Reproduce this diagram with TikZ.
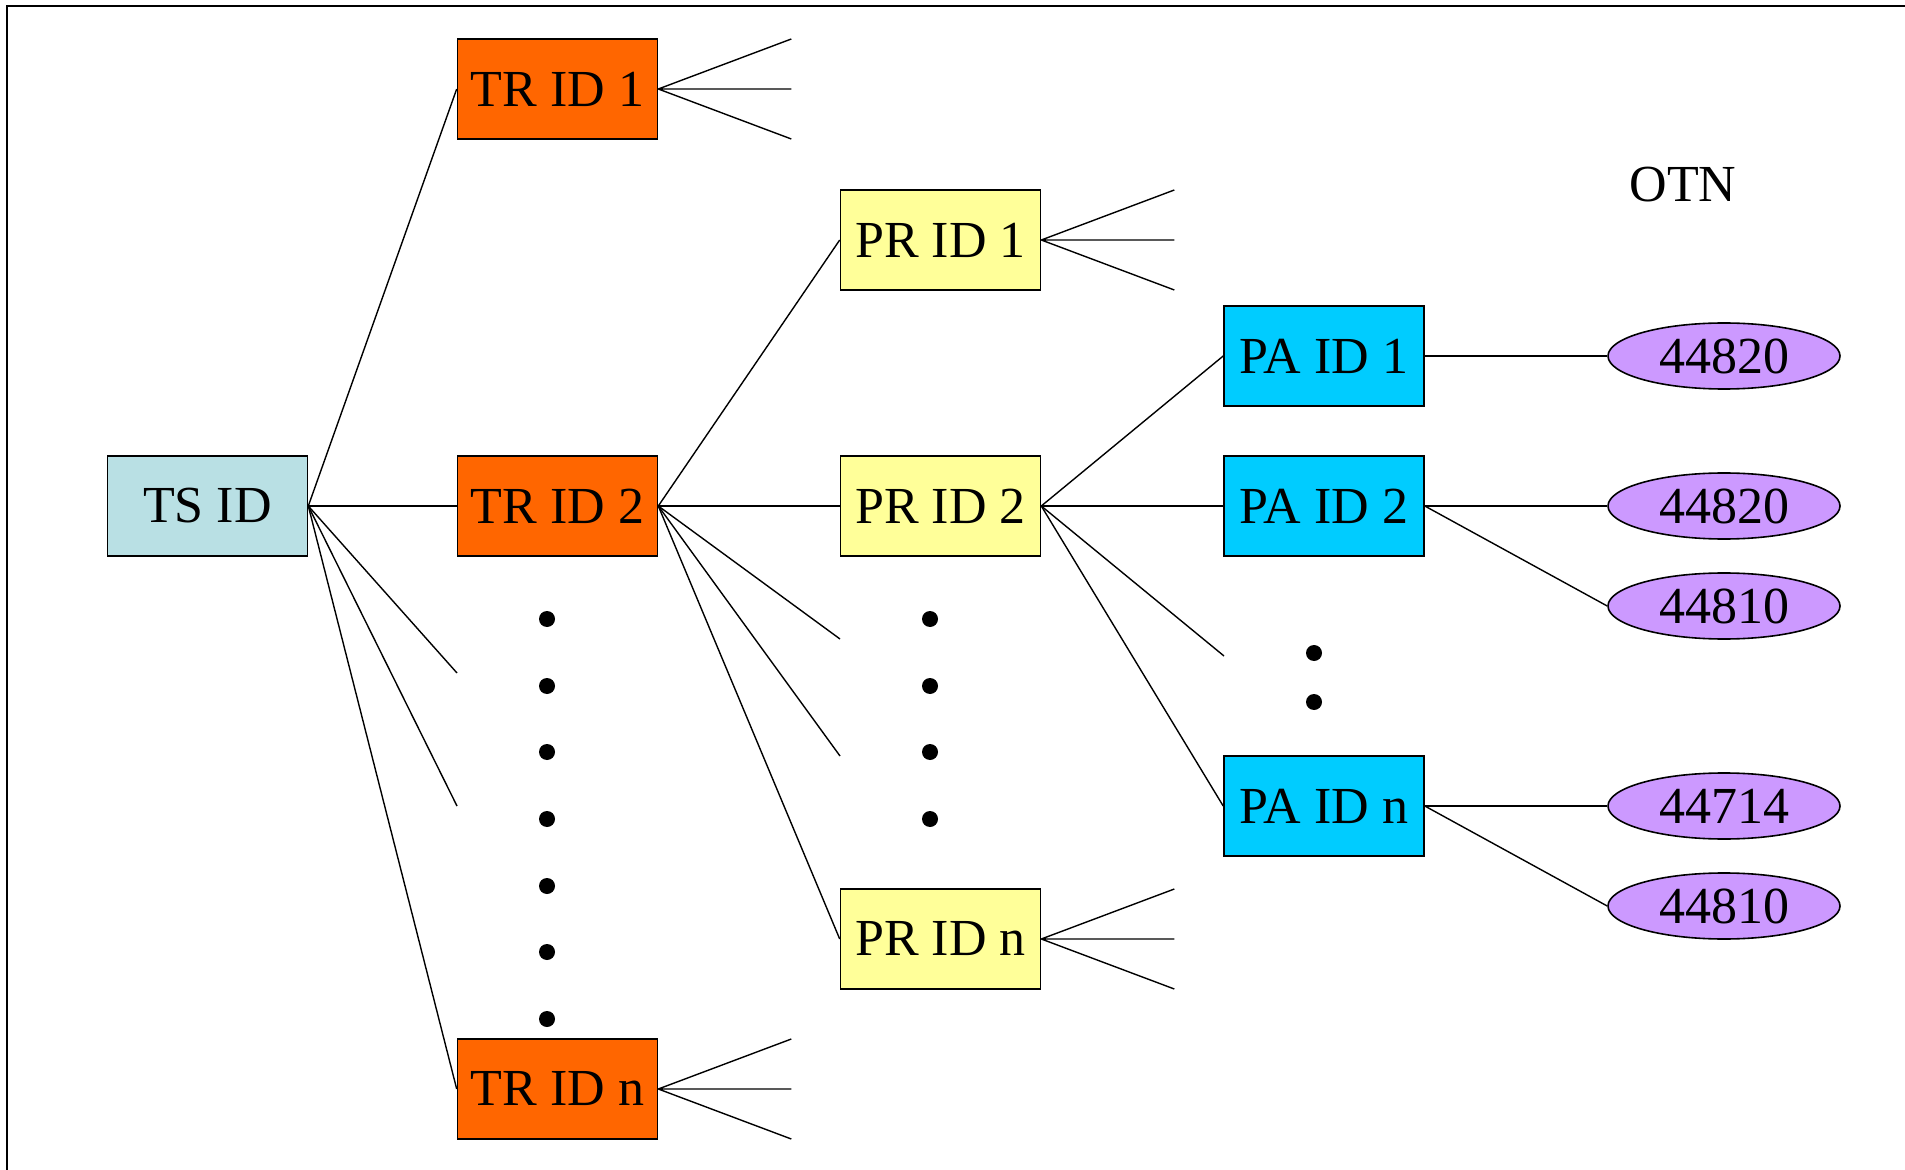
\documentclass[tikz,border=0pt]{standalone}
\usepackage{fontspec}
\setmainfont{Liberation Serif}
\usepackage{tikz}
\usetikzlibrary{shapes.geometric}

\definecolor{tscol}{RGB}{185,224,228}
\definecolor{trcol}{RGB}{255,102,0}
\definecolor{prcol}{RGB}{255,255,153}
\definecolor{pacol}{RGB}{0,204,255}
\definecolor{otncol}{RGB}{204,153,255}

\begin{document}
\begin{tikzpicture}[x=0.5pt,y=-0.5pt,
  idbox/.style={shape=rectangle,draw,line width=0.8pt,minimum width=100pt,minimum height=50pt,inner sep=0pt,font=\fontsize{26}{30}\selectfont},
  otnval/.style={shape=ellipse,draw,fill=otncol,line width=0.8pt,minimum width=116pt,minimum height=33pt,inner sep=0pt,font=\fontsize{26}{30}\selectfont},
  link/.style={line width=0.7pt},
  dot/.style={fill=black}]
  \useasboundingbox (0,0) rectangle (1905,1170);
  % frame
  \draw[line width=0.8pt] (7,1170) -- (7,6) -- (1905,6);

  % boxes
  \node[idbox,fill=tscol] (ts) at (207.5,506) {TS ID};
  \node[idbox,fill=trcol] (tr1) at (557.5,89) {TR ID 1};
  \node[idbox,fill=trcol] (tr2) at (557.5,506) {TR ID 2};
  \node[idbox,fill=trcol] (trn) at (557.5,1089) {TR ID n};
  \node[idbox,fill=prcol] (pr1) at (940.5,240) {PR ID 1};
  \node[idbox,fill=prcol] (pr2) at (940.5,506) {PR ID 2};
  \node[idbox,fill=prcol] (prn) at (940.5,939) {PR ID n};
  \node[idbox,fill=pacol] (pa1) at (1324,356) {PA ID 1};
  \node[idbox,fill=pacol] (pa2) at (1324,506) {PA ID 2};
  \node[idbox,fill=pacol] (pan) at (1324,806) {PA ID n};

  % OTN values
  \node[font=\fontsize{26}{30}\selectfont] (otn) at (1683,185) {OTN};
  \node[otnval] (v1) at (1724,356) {44820};
  \node[otnval] (v2) at (1724,506) {44820};
  \node[otnval] (v3) at (1724,606) {44810};
  \node[otnval] (v4) at (1724,806) {44714};
  \node[otnval] (v5) at (1724,906) {44810};

  % loose ends
  \coordinate (ts-a) at (457,673);
  \coordinate (ts-b) at (457,806);
  \coordinate (tr2-a) at (840,639);
  \coordinate (tr2-b) at (840,756);
  \coordinate (pr2-a) at (1224,656);

  \draw[link] (ts.east) -- (tr1.west);
  \draw[link] (ts.east) -- (tr2.west);
  \draw[link] (ts.east) -- (trn.west);
  \draw[link] (ts.east) -- (ts-a);
  \draw[link] (ts.east) -- (ts-b);

  \draw[link] (tr2.east) -- (pr1.west);
  \draw[link] (tr2.east) -- (pr2.west);
  \draw[link] (tr2.east) -- (prn.west);
  \draw[link] (tr2.east) -- (tr2-a);
  \draw[link] (tr2.east) -- (tr2-b);

  \draw[link] (pr2.east) -- (pa1.west);
  \draw[link] (pr2.east) -- (pa2.west);
  \draw[link] (pr2.east) -- (pan.west);
  \draw[link] (pr2.east) -- (pr2-a);

  \draw[link] (pa1.east) -- (v1.west);
  \draw[link] (pa2.east) -- (v2.west);
  \draw[link] (pa2.east) -- (v3.west);
  \draw[link] (pan.east) -- (v4.west);
  \draw[link] (pan.east) -- (v5.west);

  % fans
  \foreach \n in {tr1,trn,pr1,prn} {
    \coordinate (\n-up) at ([shift={(133,-50)}]\n.east);
    \coordinate (\n-mid) at ([shift={(133,0)}]\n.east);
    \coordinate (\n-dn) at ([shift={(133,50)}]\n.east);
    \draw[link] (\n.east) -- (\n-up) (\n.east) -- (\n-mid) (\n.east) -- (\n-dn);
  }

  % dots
  \foreach \y in {619,686,752,819,886,952,1019}
    \fill[dot] (547,\y) circle (4pt);
  \foreach \y in {619,686,752,819}
    \fill[dot] (930,\y) circle (4pt);
  \foreach \y in {653,702}
    \fill[dot] (1314,\y) circle (4pt);
\end{tikzpicture}
\end{document}
